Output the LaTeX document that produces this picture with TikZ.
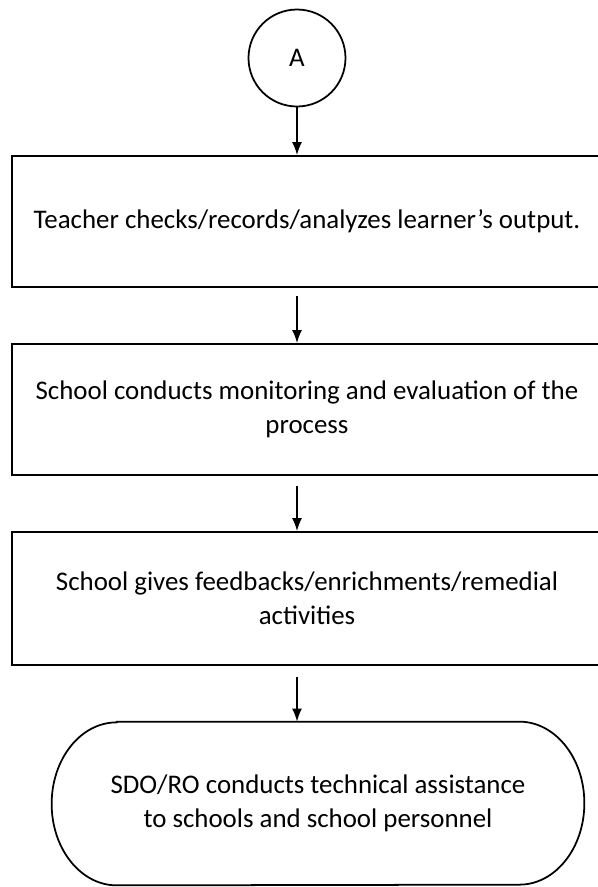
\documentclass[tikz,border=0pt]{standalone}
\usepackage{fontspec}
\setmainfont{Carlito}
\usetikzlibrary{positioning, arrows.meta}
\tikzset{
    stepbox/.style={draw, line width=1pt, minimum width=11.8cm,
                    minimum height=2.62cm, align=center,
                    font=\fontsize{15.3}{19.5}\selectfont},
    flowarrow/.style={-{Latex[length=0.26cm, width=0.2cm]}, line width=1pt},
}

\begin{document}
\begin{tikzpicture}
        \useasboundingbox (0, 0) rectangle (11.96, -17.74);
        \node[draw, circle, line width=1pt, minimum size=1.94cm,
              font=\fontsize{15.3}{19.5}\selectfont] (conA) at (5.94, -1.16) {A};
        \node[stepbox] (checks) at (6.14, -4.43)
            {Teacher checks/records/analyzes learner's output.};
        \node[stepbox] (monitor) at (6.14, -8.19)
            {School conducts monitoring and evaluation of the\\ process};
        \node[stepbox, minimum height=2.66cm] (feedback) at (6.14, -11.97)
            {School gives feedbacks/enrichments/remedial\\ activities};
        \node[minimum width=10.64cm, minimum height=3.26cm, align=center,
              font=\fontsize{15.3}{19.5}\selectfont] (assist) at (6.36, -16.07)
            {SDO/RO conducts technical assistance\\ to schools and school personnel};
        % terminal outline with elliptic ends
        \draw[line width=1pt] ([xshift=1.3cm]assist.north west)
            -- ([xshift=-1.3cm]assist.north east)
            arc[start angle=90, end angle=-90, x radius=1.3cm, y radius=1.63cm]
            -- ([xshift=1.3cm]assist.south west)
            arc[start angle=270, end angle=90, x radius=1.3cm, y radius=1.63cm]
            -- cycle;
        % arrows down the column
        \draw[flowarrow] (conA) -- (conA |- checks.north);
        \draw[flowarrow, shorten <=0.16cm] (checks.south -| conA) -- (conA |- monitor.north);
        \draw[flowarrow, shorten <=0.2cm] (monitor.south -| conA) -- (conA |- feedback.north);
        \draw[flowarrow, shorten <=0.22cm] (feedback.south -| conA) -- (conA |- assist.north);
    \end{tikzpicture}
\end{document}
